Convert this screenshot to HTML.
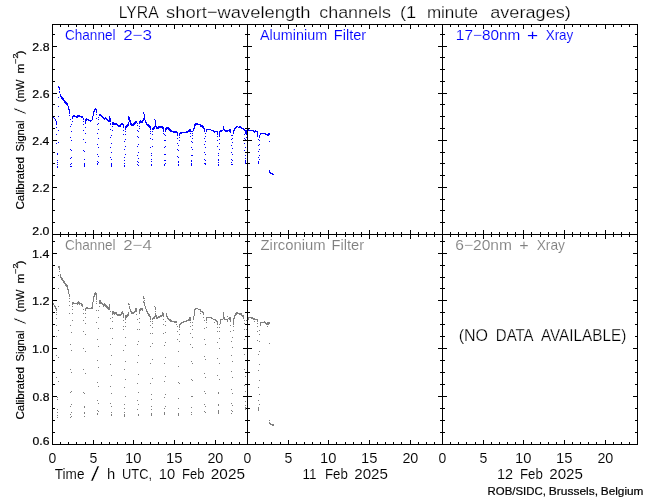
<!DOCTYPE html>
<html lang="en">
<head>
<meta charset="utf-8">
<title>LYRA short-wavelength channels (1 minute averages)</title>
<style>
html,body{margin:0;padding:0;background:#fff;}
body{width:650px;height:500px;overflow:hidden;}
svg{display:block;}
text{font-family:"Liberation Sans", sans-serif;fill:#000;stroke:#000;stroke-width:0;}
text.b{fill:#0000ff;stroke:#0000ff;}
text.g{fill:#7f7f7f;stroke:#7f7f7f;}
text.s1{stroke:#fff;stroke-width:0.25px;}
text.s2{stroke:#fff;stroke-width:0.1px;}
text.s3{stroke-width:0.2px;}
text.s2.b,text.s2.g{stroke:#fff;stroke-width:0.12px;}
</style>
</head>
<body>
<svg width="650" height="500" viewBox="0 0 650 500">
<rect width="650" height="500" fill="#ffffff"/>
<path shape-rendering="crispEdges" fill="#000" d="M52 24h1v421h-1zM247 24h1v421h-1zM442 24h1v421h-1zM637 24h1v421h-1zM52 24h586v1h-586zM52 234h586v1h-586zM52 444h586v1h-586zM60 25h1v2h-1zM60 232h1v5h-1zM60 442h1v2h-1zM68 25h1v2h-1zM68 232h1v5h-1zM68 442h1v2h-1zM76 25h1v2h-1zM76 232h1v5h-1zM76 442h1v2h-1zM85 25h1v2h-1zM85 232h1v5h-1zM85 442h1v2h-1zM93 25h1v4h-1zM93 230h1v9h-1zM93 440h1v4h-1zM101 25h1v2h-1zM101 232h1v5h-1zM101 442h1v2h-1zM109 25h1v2h-1zM109 232h1v5h-1zM109 442h1v2h-1zM117 25h1v2h-1zM117 232h1v5h-1zM117 442h1v2h-1zM125 25h1v2h-1zM125 232h1v5h-1zM125 442h1v2h-1zM133 25h1v4h-1zM133 230h1v9h-1zM133 440h1v4h-1zM141 25h1v2h-1zM141 232h1v5h-1zM141 442h1v2h-1zM150 25h1v2h-1zM150 232h1v5h-1zM150 442h1v2h-1zM158 25h1v2h-1zM158 232h1v5h-1zM158 442h1v2h-1zM166 25h1v2h-1zM166 232h1v5h-1zM166 442h1v2h-1zM174 25h1v4h-1zM174 230h1v9h-1zM174 440h1v4h-1zM182 25h1v2h-1zM182 232h1v5h-1zM182 442h1v2h-1zM190 25h1v2h-1zM190 232h1v5h-1zM190 442h1v2h-1zM198 25h1v2h-1zM198 232h1v5h-1zM198 442h1v2h-1zM206 25h1v2h-1zM206 232h1v5h-1zM206 442h1v2h-1zM215 25h1v4h-1zM215 230h1v9h-1zM215 440h1v4h-1zM223 25h1v2h-1zM223 232h1v5h-1zM223 442h1v2h-1zM231 25h1v2h-1zM231 232h1v5h-1zM231 442h1v2h-1zM239 25h1v2h-1zM239 232h1v5h-1zM239 442h1v2h-1zM255 25h1v2h-1zM255 232h1v5h-1zM255 442h1v2h-1zM263 25h1v2h-1zM263 232h1v5h-1zM263 442h1v2h-1zM271 25h1v2h-1zM271 232h1v5h-1zM271 442h1v2h-1zM280 25h1v2h-1zM280 232h1v5h-1zM280 442h1v2h-1zM288 25h1v4h-1zM288 230h1v9h-1zM288 440h1v4h-1zM296 25h1v2h-1zM296 232h1v5h-1zM296 442h1v2h-1zM304 25h1v2h-1zM304 232h1v5h-1zM304 442h1v2h-1zM312 25h1v2h-1zM312 232h1v5h-1zM312 442h1v2h-1zM320 25h1v2h-1zM320 232h1v5h-1zM320 442h1v2h-1zM328 25h1v4h-1zM328 230h1v9h-1zM328 440h1v4h-1zM336 25h1v2h-1zM336 232h1v5h-1zM336 442h1v2h-1zM345 25h1v2h-1zM345 232h1v5h-1zM345 442h1v2h-1zM353 25h1v2h-1zM353 232h1v5h-1zM353 442h1v2h-1zM361 25h1v2h-1zM361 232h1v5h-1zM361 442h1v2h-1zM369 25h1v4h-1zM369 230h1v9h-1zM369 440h1v4h-1zM377 25h1v2h-1zM377 232h1v5h-1zM377 442h1v2h-1zM385 25h1v2h-1zM385 232h1v5h-1zM385 442h1v2h-1zM393 25h1v2h-1zM393 232h1v5h-1zM393 442h1v2h-1zM401 25h1v2h-1zM401 232h1v5h-1zM401 442h1v2h-1zM410 25h1v4h-1zM410 230h1v9h-1zM410 440h1v4h-1zM418 25h1v2h-1zM418 232h1v5h-1zM418 442h1v2h-1zM426 25h1v2h-1zM426 232h1v5h-1zM426 442h1v2h-1zM434 25h1v2h-1zM434 232h1v5h-1zM434 442h1v2h-1zM450 25h1v2h-1zM450 232h1v5h-1zM450 442h1v2h-1zM458 25h1v2h-1zM458 232h1v5h-1zM458 442h1v2h-1zM466 25h1v2h-1zM466 232h1v5h-1zM466 442h1v2h-1zM475 25h1v2h-1zM475 232h1v5h-1zM475 442h1v2h-1zM483 25h1v4h-1zM483 230h1v9h-1zM483 440h1v4h-1zM491 25h1v2h-1zM491 232h1v5h-1zM491 442h1v2h-1zM499 25h1v2h-1zM499 232h1v5h-1zM499 442h1v2h-1zM507 25h1v2h-1zM507 232h1v5h-1zM507 442h1v2h-1zM515 25h1v2h-1zM515 232h1v5h-1zM515 442h1v2h-1zM523 25h1v4h-1zM523 230h1v9h-1zM523 440h1v4h-1zM531 25h1v2h-1zM531 232h1v5h-1zM531 442h1v2h-1zM540 25h1v2h-1zM540 232h1v5h-1zM540 442h1v2h-1zM548 25h1v2h-1zM548 232h1v5h-1zM548 442h1v2h-1zM556 25h1v2h-1zM556 232h1v5h-1zM556 442h1v2h-1zM564 25h1v4h-1zM564 230h1v9h-1zM564 440h1v4h-1zM572 25h1v2h-1zM572 232h1v5h-1zM572 442h1v2h-1zM580 25h1v2h-1zM580 232h1v5h-1zM580 442h1v2h-1zM588 25h1v2h-1zM588 232h1v5h-1zM588 442h1v2h-1zM596 25h1v2h-1zM596 232h1v5h-1zM596 442h1v2h-1zM605 25h1v4h-1zM605 230h1v9h-1zM605 440h1v4h-1zM613 25h1v2h-1zM613 232h1v5h-1zM613 442h1v2h-1zM621 25h1v2h-1zM621 232h1v5h-1zM621 442h1v2h-1zM629 25h1v2h-1zM629 232h1v5h-1zM629 442h1v2h-1zM53 222h2v1h-2zM245 222h5v1h-5zM440 222h5v1h-5zM635 222h2v1h-2zM53 210h2v1h-2zM245 210h5v1h-5zM440 210h5v1h-5zM635 210h2v1h-2zM53 199h2v1h-2zM245 199h5v1h-5zM440 199h5v1h-5zM635 199h2v1h-2zM53 187h4v1h-4zM243 187h9v1h-9zM438 187h9v1h-9zM633 187h4v1h-4zM53 175h2v1h-2zM245 175h5v1h-5zM440 175h5v1h-5zM635 175h2v1h-2zM53 163h2v1h-2zM245 163h5v1h-5zM440 163h5v1h-5zM635 163h2v1h-2zM53 152h2v1h-2zM245 152h5v1h-5zM440 152h5v1h-5zM635 152h2v1h-2zM53 140h4v1h-4zM243 140h9v1h-9zM438 140h9v1h-9zM633 140h4v1h-4zM53 128h2v1h-2zM245 128h5v1h-5zM440 128h5v1h-5zM635 128h2v1h-2zM53 116h2v1h-2zM245 116h5v1h-5zM440 116h5v1h-5zM635 116h2v1h-2zM53 104h2v1h-2zM245 104h5v1h-5zM440 104h5v1h-5zM635 104h2v1h-2zM53 93h4v1h-4zM243 93h9v1h-9zM438 93h9v1h-9zM633 93h4v1h-4zM53 81h2v1h-2zM245 81h5v1h-5zM440 81h5v1h-5zM635 81h2v1h-2zM53 69h2v1h-2zM245 69h5v1h-5zM440 69h5v1h-5zM635 69h2v1h-2zM53 57h2v1h-2zM245 57h5v1h-5zM440 57h5v1h-5zM635 57h2v1h-2zM53 46h4v1h-4zM243 46h9v1h-9zM438 46h9v1h-9zM633 46h4v1h-4zM53 34h2v1h-2zM245 34h5v1h-5zM440 34h5v1h-5zM635 34h2v1h-2zM53 432h2v1h-2zM245 432h5v1h-5zM440 432h5v1h-5zM635 432h2v1h-2zM53 420h2v1h-2zM245 420h5v1h-5zM440 420h5v1h-5zM635 420h2v1h-2zM53 408h2v1h-2zM245 408h5v1h-5zM440 408h5v1h-5zM635 408h2v1h-2zM53 396h4v1h-4zM243 396h9v1h-9zM438 396h9v1h-9zM633 396h4v1h-4zM53 384h2v1h-2zM245 384h5v1h-5zM440 384h5v1h-5zM635 384h2v1h-2zM53 372h2v1h-2zM245 372h5v1h-5zM440 372h5v1h-5zM635 372h2v1h-2zM53 360h2v1h-2zM245 360h5v1h-5zM440 360h5v1h-5zM635 360h2v1h-2zM53 348h4v1h-4zM243 348h9v1h-9zM438 348h9v1h-9zM633 348h4v1h-4zM53 336h2v1h-2zM245 336h5v1h-5zM440 336h5v1h-5zM635 336h2v1h-2zM53 324h2v1h-2zM245 324h5v1h-5zM440 324h5v1h-5zM635 324h2v1h-2zM53 312h2v1h-2zM245 312h5v1h-5zM440 312h5v1h-5zM635 312h2v1h-2zM53 300h4v1h-4zM243 300h9v1h-9zM438 300h9v1h-9zM633 300h4v1h-4zM53 288h2v1h-2zM245 288h5v1h-5zM440 288h5v1h-5zM635 288h2v1h-2zM53 277h2v1h-2zM245 277h5v1h-5zM440 277h5v1h-5zM635 277h2v1h-2zM53 265h2v1h-2zM245 265h5v1h-5zM440 265h5v1h-5zM635 265h2v1h-2zM53 253h4v1h-4zM243 253h9v1h-9zM438 253h9v1h-9zM633 253h4v1h-4zM53 241h2v1h-2zM245 241h5v1h-5zM440 241h5v1h-5zM635 241h2v1h-2z"/>
<path shape-rendering="crispEdges" fill="#0000ff" d="M53 117h1v1h-1zM54 118h1v1h-1zM55 119h1v2h-1zM56 121h1v4h-1zM58 86h1v2h-1zM59 87h1v3h-1zM59 91h1v2h-1zM60 94h1v3h-1zM61 96h1v3h-1zM62 97h1v3h-1zM63 98h1v3h-1zM64 100h1v3h-1zM65 101h1v3h-1zM66 102h1v3h-1zM67 103h1v3h-1zM68 106h1v4h-1zM69 109h1v5h-1zM72 116h1v3h-1zM73 115h1v2h-1zM74 115h1v2h-1zM75 116h1v1h-1zM76 116h1v2h-1zM77 115h1v3h-1zM78 115h1v2h-1zM79 115h1v2h-1zM80 116h1v1h-1zM81 116h1v2h-1zM82 116h1v2h-1zM83 118h1v2h-1zM85 119h1v5h-1zM86 118h1v3h-1zM87 119h1v1h-1zM88 119h1v2h-1zM89 120h1v1h-1zM90 120h1v2h-1zM91 120h1v1h-1zM92 116h1v4h-1zM93 111h1v5h-1zM94 109h1v3h-1zM95 108h1v2h-1zM96 109h1v4h-1zM99 114h1v2h-1zM100 114h1v2h-1zM101 115h1v2h-1zM102 116h1v2h-1zM103 117h1v2h-1zM104 118h1v2h-1zM105 117h1v2h-1zM106 118h1v2h-1zM107 119h1v2h-1zM108 120h1v2h-1zM109 116h1v6h-1zM110 118h1v4h-1zM112 122h1v3h-1zM113 122h1v3h-1zM114 123h1v2h-1zM115 123h1v2h-1zM116 123h1v2h-1zM117 124h1v2h-1zM118 125h1v2h-1zM119 125h1v2h-1zM120 124h1v3h-1zM121 123h1v2h-1zM122 123h1v2h-1zM123 124h1v4h-1zM125 126h1v3h-1zM126 125h1v3h-1zM127 124h1v3h-1zM128 116h1v4h-1zM128 122h1v4h-1zM129 117h1v5h-1zM130 120h1v5h-1zM131 123h1v3h-1zM132 124h1v2h-1zM133 123h1v3h-1zM134 122h1v3h-1zM135 121h1v3h-1zM136 121h1v2h-1zM139 121h1v3h-1zM140 120h1v3h-1zM141 121h1v2h-1zM142 120h1v3h-1zM143 112h1v2h-1zM143 118h1v3h-1zM144 114h1v6h-1zM145 120h1v3h-1zM146 122h1v3h-1zM147 124h1v2h-1zM148 124h1v3h-1zM149 125h1v3h-1zM150 126h1v4h-1zM152 128h1v2h-1zM153 127h1v3h-1zM154 119h1v1h-1zM154 126h1v3h-1zM155 120h1v7h-1zM156 126h1v3h-1zM157 127h1v2h-1zM158 126h1v3h-1zM159 126h1v2h-1zM160 126h1v2h-1zM161 126h1v2h-1zM162 126h1v3h-1zM163 127h1v5h-1zM165 128h1v3h-1zM166 127h1v3h-1zM167 127h1v2h-1zM168 127h1v3h-1zM169 128h1v3h-1zM170 129h1v3h-1zM171 130h1v2h-1zM172 131h1v1h-1zM173 131h1v2h-1zM174 131h1v2h-1zM175 131h1v2h-1zM176 131h1v2h-1zM177 132h1v4h-1zM179 133h1v3h-1zM180 132h1v2h-1zM181 132h1v2h-1zM182 132h1v1h-1zM183 132h1v1h-1zM184 132h1v1h-1zM185 132h1v1h-1zM186 131h1v2h-1zM187 131h1v2h-1zM188 130h1v2h-1zM189 129h1v3h-1zM190 129h1v3h-1zM191 131h1v1h-1zM192 131h1v1h-1zM193 128h1v3h-1zM194 124h1v5h-1zM195 123h1v3h-1zM196 123h1v2h-1zM197 123h1v2h-1zM198 124h1v1h-1zM199 124h1v1h-1zM200 124h1v3h-1zM201 125h1v2h-1zM202 125h1v3h-1zM203 126h1v3h-1zM204 128h1v4h-1zM206 129h1v3h-1zM207 129h1v1h-1zM208 129h1v1h-1zM209 129h1v1h-1zM210 129h1v1h-1zM211 130h1v1h-1zM212 130h1v1h-1zM213 130h1v2h-1zM214 131h1v2h-1zM215 131h1v1h-1zM216 131h1v1h-1zM217 131h1v4h-1zM219 131h1v6h-1zM220 130h1v2h-1zM221 130h1v2h-1zM222 130h1v1h-1zM223 126h1v4h-1zM224 129h1v2h-1zM225 130h1v2h-1zM226 130h1v2h-1zM227 130h1v2h-1zM228 130h1v1h-1zM229 129h1v3h-1zM230 129h1v4h-1zM233 130h1v4h-1zM234 128h1v3h-1zM235 127h1v2h-1zM236 126h1v2h-1zM237 126h1v1h-1zM238 127h1v1h-1zM239 126h1v2h-1zM240 126h1v2h-1zM241 127h1v2h-1zM242 128h1v1h-1zM243 128h1v2h-1zM244 129h1v2h-1zM245 130h1v4h-1zM246 130h1v5h-1zM248 129h1v2h-1zM249 130h1v1h-1zM250 130h1v1h-1zM251 130h1v1h-1zM252 130h1v1h-1zM253 130h1v2h-1zM254 131h1v2h-1zM255 130h1v2h-1zM256 131h1v1h-1zM257 131h1v6h-1zM259 135h1v3h-1zM260 133h1v2h-1zM261 133h1v1h-1zM262 133h1v1h-1zM263 133h1v1h-1zM264 133h1v1h-1zM265 133h1v2h-1zM266 134h1v1h-1zM267 134h1v2h-1zM268 133h1v3h-1zM269 133h1v2h-1zM269 170h1v3h-1zM270 172h1v2h-1zM271 173h1v1h-1zM272 173h1v2h-1zM273 174h1v1h-1zM56 127h1v1h-1zM56 134h1v1h-1zM56 143h1v1h-1zM58 130h1v1h-1zM58 142h1v1h-1zM57 153h1v2h-1zM57 160h1v1h-1zM57 162h1v1h-1zM57 164h1v1h-1zM57 166h1v2h-1zM58 97h1v1h-1zM58 106h1v1h-1zM58 116h1v1h-1zM69 115h1v1h-1zM70 119h1v1h-1zM70 126h1v1h-1zM72 121h1v1h-1zM71 124h1v1h-1zM71 131h1v1h-1zM71 140h1v1h-1zM71 150h1v1h-1zM71 157h1v1h-1zM71 163h1v1h-1zM71 166h1v1h-1zM70 137h1v1h-1zM70 149h1v1h-1zM70 158h1v1h-1zM70 164h1v1h-1zM70 166h1v1h-1zM83 121h1v1h-1zM83 124h1v1h-1zM83 130h1v1h-1zM83 139h1v1h-1zM83 150h1v1h-1zM85 127h1v1h-1zM85 133h1v1h-1zM85 142h1v1h-1zM84 151h1v1h-1zM84 159h1v1h-1zM84 163h1v4h-1zM96 114h1v1h-1zM96 118h1v1h-1zM98 117h1v1h-1zM98 119h1v1h-1zM98 123h1v1h-1zM98 129h1v1h-1zM98 138h1v1h-1zM98 147h1v1h-1zM98 156h1v1h-1zM98 162h1v1h-1zM97 124h1v1h-1zM97 133h1v1h-1zM97 144h1v1h-1zM97 154h1v1h-1zM97 161h1v1h-1zM97 163h1v2h-1zM110 123h1v2h-1zM110 129h1v1h-1zM110 137h1v1h-1zM110 147h1v1h-1zM110 157h1v1h-1zM112 126h1v1h-1zM112 130h1v1h-1zM111 135h1v1h-1zM111 143h1v1h-1zM111 152h1v1h-1zM111 159h1v1h-1zM111 163h1v4h-1zM123 130h1v1h-1zM123 134h1v1h-1zM125 129h1v1h-1zM125 131h1v1h-1zM125 134h1v1h-1zM125 139h1v1h-1zM125 146h1v1h-1zM125 154h1v1h-1zM124 141h1v1h-1zM124 149h1v1h-1zM124 157h1v1h-1zM124 160h1v1h-1zM124 163h1v1h-1zM124 165h1v2h-1zM137 123h1v1h-1zM137 125h1v1h-1zM137 130h1v1h-1zM137 136h1v1h-1zM137 146h1v1h-1zM137 155h1v1h-1zM137 161h1v1h-1zM137 164h1v1h-1zM139 126h1v1h-1zM139 128h1v1h-1zM138 131h1v1h-1zM138 137h1v1h-1zM138 144h1v1h-1zM138 152h1v1h-1zM138 158h1v1h-1zM138 162h1v1h-1zM138 165h1v1h-1zM150 131h1v1h-1zM150 133h1v1h-1zM150 138h1v1h-1zM150 147h1v1h-1zM152 131h1v1h-1zM152 134h1v1h-1zM152 139h1v1h-1zM152 146h1v1h-1zM151 153h1v1h-1zM151 155h1v1h-1zM151 159h1v1h-1zM151 161h1v1h-1zM151 164h1v2h-1zM163 133h1v1h-1zM165 131h1v1h-1zM165 135h1v1h-1zM165 140h1v1h-1zM165 146h1v1h-1zM165 154h1v1h-1zM165 160h1v1h-1zM165 163h1v1h-1zM164 134h1v1h-1zM164 140h1v1h-1zM164 147h1v1h-1zM164 154h1v1h-1zM164 160h1v1h-1zM164 164h1v2h-1zM177 135h1v1h-1zM177 138h1v1h-1zM177 143h1v1h-1zM177 149h1v1h-1zM177 156h1v1h-1zM179 137h1v1h-1zM179 140h1v1h-1zM178 145h1v1h-1zM178 150h1v1h-1zM178 157h1v1h-1zM178 161h1v2h-1zM178 164h1v2h-1zM190 133h1v1h-1zM190 136h1v1h-1zM192 133h1v1h-1zM192 135h1v1h-1zM192 138h1v1h-1zM192 142h1v1h-1zM192 149h1v1h-1zM192 155h1v1h-1zM191 141h1v1h-1zM191 147h1v1h-1zM191 155h1v1h-1zM191 160h1v2h-1zM191 163h1v3h-1zM205 133h1v1h-1zM205 136h1v1h-1zM205 141h1v1h-1zM205 147h1v1h-1zM205 154h1v1h-1zM205 160h1v1h-1zM205 163h1v2h-1zM204 138h1v1h-1zM204 144h1v1h-1zM204 152h1v1h-1zM204 159h1v1h-1zM204 163h1v1h-1zM217 136h1v1h-1zM217 140h1v1h-1zM217 146h1v1h-1zM219 139h1v1h-1zM219 143h1v1h-1zM219 149h1v1h-1zM218 153h1v1h-1zM218 155h1v1h-1zM218 159h1v2h-1zM218 162h1v1h-1zM218 164h1v2h-1zM231 135h1v1h-1zM231 139h1v1h-1zM231 145h1v1h-1zM231 152h1v1h-1zM231 159h1v1h-1zM231 162h1v1h-1zM231 164h1v1h-1zM232 135h1v1h-1zM232 138h1v1h-1zM232 142h1v1h-1zM232 148h1v1h-1zM232 154h1v1h-1zM232 160h1v1h-1zM232 164h1v1h-1zM244 134h1v1h-1zM244 138h1v1h-1zM244 143h1v1h-1zM244 150h1v1h-1zM246 137h1v1h-1zM245 139h1v1h-1zM245 147h1v1h-1zM245 155h1v1h-1zM245 158h1v1h-1zM245 160h1v4h-1zM258 139h1v1h-1zM258 145h1v1h-1zM258 151h1v1h-1zM258 157h1v1h-1zM258 161h1v3h-1zM259 140h1v1h-1zM259 144h1v1h-1zM259 149h1v1h-1zM259 155h1v1h-1zM259 159h1v1h-1zM269 141h1v1h-1z"/>
<path shape-rendering="crispEdges" fill="#7f7f7f" d="M53 303h1v2h-1zM54 305h1v2h-1zM55 306h1v3h-1zM56 308h1v3h-1zM58 266h1v2h-1zM59 266h1v4h-1zM60 274h1v4h-1zM61 277h1v3h-1zM62 278h1v3h-1zM63 280h1v3h-1zM64 281h1v3h-1zM65 283h1v3h-1zM66 284h1v3h-1zM67 285h1v5h-1zM68 289h1v5h-1zM69 294h1v3h-1zM69 298h1v1h-1zM72 302h1v3h-1zM73 302h1v2h-1zM74 303h1v1h-1zM75 303h1v1h-1zM76 303h1v1h-1zM77 302h1v3h-1zM78 301h1v3h-1zM79 302h1v3h-1zM80 303h1v1h-1zM81 303h1v3h-1zM82 304h1v3h-1zM85 308h1v3h-1zM86 307h1v2h-1zM87 307h1v2h-1zM88 308h1v1h-1zM89 308h1v1h-1zM90 308h1v1h-1zM91 307h1v2h-1zM92 302h1v7h-1zM93 296h1v6h-1zM94 293h1v4h-1zM95 292h1v3h-1zM96 293h1v7h-1zM99 300h1v4h-1zM100 300h1v4h-1zM101 302h1v2h-1zM102 303h1v2h-1zM103 304h1v3h-1zM104 303h1v3h-1zM105 304h1v3h-1zM106 305h1v3h-1zM107 306h1v3h-1zM108 307h1v3h-1zM109 304h1v6h-1zM112 311h1v4h-1zM113 311h1v3h-1zM114 312h1v3h-1zM115 312h1v2h-1zM116 312h1v3h-1zM117 314h1v2h-1zM118 314h1v2h-1zM119 314h1v2h-1zM120 314h1v2h-1zM121 312h1v3h-1zM122 311h1v3h-1zM123 313h1v4h-1zM125 315h1v5h-1zM126 315h1v3h-1zM127 314h1v3h-1zM128 303h1v2h-1zM128 312h1v4h-1zM129 304h1v1h-1zM129 306h1v3h-1zM130 309h1v3h-1zM131 311h1v3h-1zM132 312h1v2h-1zM133 312h1v2h-1zM134 311h1v2h-1zM135 308h1v4h-1zM136 308h1v4h-1zM139 309h1v4h-1zM140 308h1v3h-1zM141 308h1v2h-1zM142 308h1v3h-1zM143 296h1v3h-1zM143 301h1v2h-1zM144 298h1v1h-1zM144 300h1v1h-1zM144 302h1v4h-1zM145 306h1v3h-1zM146 309h1v3h-1zM147 311h1v3h-1zM148 313h1v3h-1zM149 314h1v3h-1zM150 316h1v3h-1zM152 318h1v2h-1zM153 317h1v2h-1zM154 306h1v1h-1zM154 316h1v3h-1zM155 307h1v3h-1zM155 311h1v1h-1zM155 313h1v4h-1zM156 315h1v4h-1zM157 317h1v2h-1zM158 316h1v2h-1zM159 316h1v2h-1zM160 315h1v2h-1zM161 315h1v2h-1zM162 312h1v4h-1zM163 313h1v3h-1zM166 313h1v4h-1zM167 316h1v3h-1zM168 318h1v2h-1zM169 319h1v2h-1zM170 319h1v3h-1zM171 320h1v2h-1zM172 321h1v1h-1zM173 321h1v1h-1zM174 321h1v2h-1zM175 321h1v2h-1zM176 321h1v2h-1zM179 324h1v4h-1zM180 323h1v2h-1zM181 322h1v2h-1zM182 322h1v1h-1zM183 321h1v2h-1zM184 321h1v1h-1zM185 321h1v1h-1zM186 320h1v2h-1zM187 320h1v1h-1zM188 319h1v2h-1zM189 317h1v4h-1zM190 317h1v4h-1zM193 316h1v4h-1zM194 309h1v7h-1zM195 308h1v2h-1zM196 308h1v1h-1zM197 308h1v1h-1zM198 309h1v1h-1zM199 309h1v1h-1zM200 309h1v3h-1zM201 311h1v1h-1zM202 311h1v2h-1zM203 312h1v3h-1zM206 317h1v4h-1zM207 317h1v1h-1zM208 317h1v1h-1zM209 317h1v1h-1zM210 317h1v1h-1zM211 317h1v2h-1zM212 318h1v1h-1zM213 319h1v1h-1zM214 319h1v1h-1zM215 319h1v2h-1zM216 320h1v2h-1zM217 321h1v3h-1zM220 319h1v5h-1zM221 319h1v1h-1zM222 319h1v1h-1zM223 312h1v7h-1zM224 317h1v3h-1zM225 319h1v1h-1zM226 319h1v1h-1zM227 319h1v3h-1zM228 318h1v1h-1zM229 317h1v3h-1zM230 317h1v4h-1zM233 318h1v5h-1zM234 315h1v4h-1zM235 313h1v3h-1zM236 312h1v3h-1zM237 312h1v2h-1zM238 313h1v1h-1zM239 313h1v2h-1zM240 313h1v2h-1zM241 313h1v3h-1zM242 315h1v2h-1zM243 315h1v4h-1zM248 317h1v3h-1zM249 317h1v1h-1zM250 317h1v1h-1zM251 317h1v2h-1zM252 317h1v2h-1zM253 318h1v2h-1zM254 318h1v2h-1zM255 319h1v1h-1zM256 319h1v1h-1zM257 319h1v3h-1zM260 322h1v4h-1zM261 322h1v1h-1zM262 322h1v1h-1zM263 322h1v1h-1zM264 321h1v2h-1zM265 322h1v2h-1zM266 323h1v2h-1zM267 322h1v3h-1zM268 322h1v3h-1zM269 322h1v2h-1zM269 420h1v1h-1zM269 422h1v2h-1zM270 423h1v2h-1zM271 424h1v1h-1zM272 424h1v2h-1zM273 424h1v2h-1zM59 271h1v1h-1zM58 275h1v1h-1zM58 288h1v1h-1zM58 306h1v1h-1zM56 312h1v1h-1zM56 314h1v1h-1zM56 318h1v1h-1zM56 325h1v1h-1zM56 336h1v1h-1zM56 355h1v1h-1zM56 377h1v1h-1zM58 330h1v1h-1zM58 357h1v1h-1zM58 381h1v1h-1zM57 397h1v1h-1zM57 399h1v1h-1zM57 409h1v1h-1zM57 412h1v1h-1zM57 415h1v1h-1zM57 417h1v1h-1zM69 301h1v1h-1zM69 305h1v1h-1zM69 313h1v1h-1zM72 306h1v1h-1zM72 309h1v1h-1zM72 313h1v1h-1zM72 320h1v1h-1zM70 325h1v1h-1zM70 344h1v1h-1zM70 369h1v1h-1zM70 392h1v1h-1zM70 406h1v1h-1zM70 414h1v1h-1zM70 417h1v1h-1zM71 332h1v1h-1zM71 350h1v1h-1zM71 372h1v1h-1zM71 391h1v1h-1zM71 404h1v1h-1zM71 412h1v1h-1zM71 416h1v1h-1zM83 309h1v1h-1zM83 313h1v1h-1zM83 320h1v1h-1zM83 331h1v1h-1zM83 348h1v1h-1zM83 369h1v1h-1zM83 392h1v1h-1zM85 313h1v1h-1zM85 317h1v1h-1zM85 323h1v1h-1zM85 334h1v1h-1zM85 351h1v1h-1zM85 373h1v1h-1zM84 393h1v1h-1zM84 406h1v2h-1zM84 412h1v2h-1zM84 416h1v1h-1zM96 301h1v1h-1zM96 303h1v1h-1zM96 310h1v1h-1zM96 322h1v1h-1zM98 310h1v1h-1zM98 317h1v1h-1zM98 328h1v1h-1zM98 346h1v1h-1zM98 367h1v1h-1zM98 386h1v1h-1zM98 403h1v1h-1zM98 411h1v1h-1zM99 306h1v1h-1zM97 339h1v1h-1zM97 360h1v1h-1zM97 382h1v1h-1zM97 400h1v1h-1zM97 410h1v1h-1zM97 413h1v2h-1zM110 311h1v1h-1zM110 318h1v1h-1zM110 328h1v1h-1zM110 344h1v1h-1zM110 364h1v1h-1zM110 386h1v1h-1zM110 403h1v1h-1zM112 317h1v1h-1zM112 321h1v1h-1zM112 328h1v1h-1zM112 338h1v1h-1zM111 355h1v1h-1zM111 375h1v1h-1zM111 393h1v1h-1zM111 406h1v1h-1zM111 412h1v1h-1zM111 414h1v2h-1zM123 317h1v1h-1zM123 320h1v1h-1zM123 326h1v1h-1zM123 329h1v1h-1zM123 350h1v1h-1zM125 322h1v1h-1zM125 326h1v1h-1zM125 337h1v1h-1zM125 345h1v1h-1zM125 361h1v1h-1zM125 379h1v1h-1zM125 396h1v1h-1zM124 369h1v1h-1zM124 387h1v1h-1zM124 404h1v1h-1zM124 408h1v1h-1zM124 412h1v1h-1zM124 414h1v3h-1zM136 314h1v1h-1zM137 319h1v1h-1zM137 329h1v1h-1zM137 344h1v1h-1zM137 362h1v1h-1zM137 383h1v1h-1zM137 400h1v1h-1zM137 409h1v1h-1zM139 313h1v1h-1zM139 318h1v1h-1zM139 322h1v1h-1zM139 329h1v1h-1zM138 341h1v1h-1zM138 355h1v1h-1zM138 374h1v1h-1zM138 392h1v1h-1zM138 404h1v1h-1zM138 414h1v2h-1zM150 319h1v1h-1zM150 321h1v1h-1zM150 325h1v1h-1zM150 333h1v1h-1zM150 346h1v1h-1zM150 363h1v1h-1zM150 383h1v1h-1zM152 321h1v1h-1zM152 323h1v1h-1zM152 327h1v1h-1zM152 333h1v1h-1zM152 343h1v1h-1zM152 359h1v1h-1zM152 378h1v1h-1zM151 394h1v1h-1zM151 399h1v1h-1zM151 406h1v1h-1zM151 409h1v1h-1zM151 413h1v3h-1zM163 316h1v1h-1zM163 319h1v1h-1zM163 324h1v1h-1zM163 333h1v1h-1zM165 321h1v1h-1zM165 325h1v1h-1zM165 332h1v1h-1zM165 342h1v1h-1zM165 357h1v1h-1zM165 376h1v1h-1zM165 394h1v1h-1zM165 406h1v1h-1zM164 345h1v1h-1zM164 363h1v1h-1zM164 381h1v1h-1zM164 397h1v1h-1zM164 408h1v1h-1zM164 412h1v3h-1zM176 324h1v1h-1zM177 326h1v1h-1zM177 331h1v1h-1zM177 339h1v1h-1zM179 329h1v1h-1zM179 334h1v1h-1zM179 341h1v1h-1zM179 383h1v1h-1zM178 351h1v1h-1zM178 366h1v1h-1zM178 382h1v1h-1zM178 398h1v1h-1zM178 408h1v1h-1zM178 413h1v3h-1zM190 322h1v1h-1zM190 326h1v1h-1zM190 333h1v1h-1zM190 344h1v1h-1zM192 322h1v1h-1zM192 325h1v1h-1zM192 329h1v1h-1zM192 337h1v1h-1zM192 347h1v1h-1zM192 363h1v1h-1zM192 380h1v1h-1zM192 396h1v1h-1zM191 361h1v1h-1zM191 379h1v1h-1zM191 396h1v1h-1zM191 407h1v1h-1zM191 412h1v1h-1zM191 414h1v1h-1zM200 313h1v1h-1zM203 317h1v1h-1zM204 320h1v1h-1zM204 328h1v1h-1zM204 339h1v1h-1zM204 356h1v1h-1zM204 373h1v1h-1zM204 391h1v1h-1zM204 404h1v1h-1zM204 411h1v1h-1zM206 322h1v1h-1zM206 327h1v1h-1zM205 344h1v1h-1zM205 359h1v1h-1zM205 377h1v1h-1zM205 393h1v1h-1zM205 406h1v1h-1zM205 412h1v1h-1zM214 322h1v1h-1zM217 324h1v1h-1zM217 327h1v1h-1zM217 331h1v1h-1zM217 342h1v1h-1zM217 358h1v1h-1zM217 375h1v1h-1zM219 324h1v1h-1zM219 327h1v1h-1zM219 331h1v1h-1zM219 338h1v1h-1zM219 348h1v1h-1zM219 363h1v1h-1zM219 379h1v1h-1zM218 392h1v2h-1zM218 404h1v2h-1zM218 410h1v4h-1zM227 316h1v1h-1zM230 321h1v1h-1zM230 325h1v1h-1zM230 331h1v1h-1zM233 323h1v2h-1zM233 326h1v1h-1zM233 330h1v1h-1zM232 337h1v1h-1zM232 347h1v1h-1zM232 361h1v1h-1zM232 377h1v1h-1zM232 393h1v1h-1zM232 405h1v1h-1zM232 411h1v1h-1zM231 341h1v1h-1zM231 355h1v1h-1zM231 371h1v1h-1zM231 389h1v1h-1zM231 403h1v1h-1zM231 410h1v1h-1zM231 413h1v1h-1zM244 320h1v1h-1zM244 323h1v1h-1zM244 329h1v1h-1zM244 339h1v1h-1zM244 354h1v1h-1zM244 369h1v1h-1zM244 385h1v1h-1zM246 320h1v1h-1zM246 329h1v1h-1zM245 376h1v1h-1zM245 391h1v1h-1zM245 401h1v1h-1zM245 405h1v1h-1zM245 407h1v3h-1zM254 321h1v1h-1zM257 323h1v1h-1zM257 326h1v1h-1zM257 331h1v1h-1zM257 340h1v1h-1zM259 330h1v1h-1zM259 334h1v1h-1zM259 341h1v1h-1zM259 351h1v1h-1zM259 364h1v1h-1zM259 380h1v1h-1zM259 394h1v1h-1zM259 404h1v1h-1zM258 354h1v1h-1zM258 370h1v1h-1zM258 387h1v1h-1zM258 400h1v1h-1zM258 407h1v4h-1zM267 326h1v1h-1zM269 343h1v1h-1z"/>
<text y="18" font-size="17.4" class="s1"><tspan x="118.77" textLength="38.98" lengthAdjust="spacingAndGlyphs">LYRA</tspan> <tspan x="166.10" textLength="144.38" lengthAdjust="spacingAndGlyphs">short−wavelength</tspan> <tspan x="319.24" textLength="71.70" lengthAdjust="spacingAndGlyphs">channels</tspan> <tspan x="399.90" textLength="16.30" lengthAdjust="spacingAndGlyphs">(1</tspan> <tspan x="426.89" textLength="51.16" lengthAdjust="spacingAndGlyphs">minute</tspan> <tspan x="490.23" textLength="80.65" lengthAdjust="spacingAndGlyphs">averages)</tspan></text>
<text y="40" font-size="14.5" class="s2 b"><tspan x="64.92" textLength="50.67" lengthAdjust="spacingAndGlyphs">Channel</tspan> <tspan x="123.15" textLength="28.90" lengthAdjust="spacingAndGlyphs">2−3</tspan></text>
<text y="40" font-size="14.5" class="s2 b"><tspan x="260.00" textLength="67.24" lengthAdjust="spacingAndGlyphs">Aluminium</tspan> <tspan x="333.83" textLength="32.38" lengthAdjust="spacingAndGlyphs">Filter</tspan></text>
<text y="40" font-size="14.5" class="s2 b"><tspan x="455.85" textLength="64.45" lengthAdjust="spacingAndGlyphs">17−80nm</tspan> <tspan x="527.09" textLength="11.14" lengthAdjust="spacingAndGlyphs">+</tspan> <tspan x="545.70" textLength="27.62" lengthAdjust="spacingAndGlyphs">Xray</tspan></text>
<text y="250" font-size="14.5" class="s2 g"><tspan x="64.92" textLength="50.67" lengthAdjust="spacingAndGlyphs">Channel</tspan> <tspan x="123.16" textLength="28.63" lengthAdjust="spacingAndGlyphs">2−4</tspan></text>
<text y="250" font-size="14.5" class="s2 g"><tspan x="260.56" textLength="65.11" lengthAdjust="spacingAndGlyphs">Zirconium</tspan> <tspan x="331.42" textLength="32.69" lengthAdjust="spacingAndGlyphs">Filter</tspan></text>
<text y="250" font-size="14.5" class="s2 g"><tspan x="455.22" textLength="56.72" lengthAdjust="spacingAndGlyphs">6−20nm</tspan> <tspan x="519.23" textLength="9.46" lengthAdjust="spacingAndGlyphs">+</tspan> <tspan x="536.69" textLength="28.22" lengthAdjust="spacingAndGlyphs">Xray</tspan></text>
<text y="341" font-size="17.4" class="s1"><tspan x="458.64" textLength="29.44" lengthAdjust="spacingAndGlyphs">(NO</tspan> <tspan x="495.83" textLength="36.89" lengthAdjust="spacingAndGlyphs">DATA</tspan> <tspan x="541.00" textLength="85.24" lengthAdjust="spacingAndGlyphs">AVAILABLE)</tspan></text>
<text y="463" font-size="14.5" class="s2"><tspan x="48.58" textLength="7.76" lengthAdjust="spacingAndGlyphs">0</tspan></text>
<text y="463" font-size="14.5" class="s2"><tspan x="89.54" textLength="7.84" lengthAdjust="spacingAndGlyphs">5</tspan></text>
<text y="463" font-size="14.5" class="s2"><tspan x="124.99" textLength="16.39" lengthAdjust="spacingAndGlyphs">10</tspan></text>
<text y="463" font-size="14.5" class="s2"><tspan x="165.99" textLength="16.43" lengthAdjust="spacingAndGlyphs">15</tspan></text>
<text y="463" font-size="14.5" class="s2"><tspan x="207.38" textLength="15.99" lengthAdjust="spacingAndGlyphs">20</tspan></text>
<text y="463" font-size="14.5" class="s2"><tspan x="243.58" textLength="7.76" lengthAdjust="spacingAndGlyphs">0</tspan></text>
<text y="463" font-size="14.5" class="s2"><tspan x="284.54" textLength="7.84" lengthAdjust="spacingAndGlyphs">5</tspan></text>
<text y="463" font-size="14.5" class="s2"><tspan x="319.99" textLength="16.39" lengthAdjust="spacingAndGlyphs">10</tspan></text>
<text y="463" font-size="14.5" class="s2"><tspan x="360.99" textLength="16.43" lengthAdjust="spacingAndGlyphs">15</tspan></text>
<text y="463" font-size="14.5" class="s2"><tspan x="402.38" textLength="15.99" lengthAdjust="spacingAndGlyphs">20</tspan></text>
<text y="463" font-size="14.5" class="s2"><tspan x="438.58" textLength="7.76" lengthAdjust="spacingAndGlyphs">0</tspan></text>
<text y="463" font-size="14.5" class="s2"><tspan x="479.54" textLength="7.84" lengthAdjust="spacingAndGlyphs">5</tspan></text>
<text y="463" font-size="14.5" class="s2"><tspan x="514.99" textLength="16.39" lengthAdjust="spacingAndGlyphs">10</tspan></text>
<text y="463" font-size="14.5" class="s2"><tspan x="555.99" textLength="16.43" lengthAdjust="spacingAndGlyphs">15</tspan></text>
<text y="463" font-size="14.5" class="s2"><tspan x="597.38" textLength="15.99" lengthAdjust="spacingAndGlyphs">20</tspan></text>
<text y="479" font-size="14.5" class="s2"><tspan x="54.73" textLength="29.75" lengthAdjust="spacingAndGlyphs">Time</tspan> <tspan x="90.54" dy="2.3" font-size="20.6" stroke="#fff" stroke-width="0.55" textLength="9.16" lengthAdjust="spacingAndGlyphs">/</tspan> <tspan x="107.00" dy="-2.3" textLength="8.24" lengthAdjust="spacingAndGlyphs">h</tspan> <tspan x="122.04" textLength="30.00" lengthAdjust="spacingAndGlyphs">UTC,</tspan> <tspan x="158.89" textLength="16.39" lengthAdjust="spacingAndGlyphs">10</tspan> <tspan x="181.96" textLength="22.47" lengthAdjust="spacingAndGlyphs">Feb</tspan> <tspan x="210.83" textLength="34.11" lengthAdjust="spacingAndGlyphs">2025</tspan></text>
<text y="479" font-size="14.5" class="s2"><tspan x="302.59" textLength="13.96" lengthAdjust="spacingAndGlyphs">11</tspan> <tspan x="324.94" textLength="22.90" lengthAdjust="spacingAndGlyphs">Feb</tspan> <tspan x="354.24" textLength="33.70" lengthAdjust="spacingAndGlyphs">2025</tspan></text>
<text y="479" font-size="14.5" class="s2"><tspan x="496.91" textLength="16.11" lengthAdjust="spacingAndGlyphs">12</tspan> <tspan x="519.94" textLength="22.90" lengthAdjust="spacingAndGlyphs">Feb</tspan> <tspan x="549.24" textLength="33.70" lengthAdjust="spacingAndGlyphs">2025</tspan></text>
<text y="235" font-size="11.6" class="s3"><tspan x="32.39" textLength="17.08" lengthAdjust="spacingAndGlyphs">2.0</tspan></text>
<text y="192" font-size="11.6" class="s3"><tspan x="32.38" textLength="17.21" lengthAdjust="spacingAndGlyphs">2.2</tspan></text>
<text y="145" font-size="11.6" class="s3"><tspan x="32.39" textLength="16.95" lengthAdjust="spacingAndGlyphs">2.4</tspan></text>
<text y="98" font-size="11.6" class="s3"><tspan x="32.38" textLength="17.14" lengthAdjust="spacingAndGlyphs">2.6</tspan></text>
<text y="51" font-size="11.6" class="s3"><tspan x="32.38" textLength="17.11" lengthAdjust="spacingAndGlyphs">2.8</tspan></text>
<text y="445" font-size="11.6" class="s3"><tspan x="32.54" textLength="16.98" lengthAdjust="spacingAndGlyphs">0.6</tspan></text>
<text y="401" font-size="11.6" class="s3"><tspan x="32.54" textLength="16.95" lengthAdjust="spacingAndGlyphs">0.8</tspan></text>
<text y="353" font-size="11.6" class="s3"><tspan x="32.06" textLength="17.41" lengthAdjust="spacingAndGlyphs">1.0</tspan></text>
<text y="305" font-size="11.6" class="s3"><tspan x="32.05" textLength="17.55" lengthAdjust="spacingAndGlyphs">1.2</tspan></text>
<text y="258" font-size="11.6" class="s3"><tspan x="32.07" textLength="17.28" lengthAdjust="spacingAndGlyphs">1.4</tspan></text>
<text transform="translate(24 209) rotate(-90)" font-size="11.6" class="s3"><tspan x="-0.58" textLength="52.61" lengthAdjust="spacingAndGlyphs">Calibrated</tspan> <tspan x="57.50" textLength="30.92" lengthAdjust="spacingAndGlyphs">Signal</tspan> <tspan x="94.40" dy="1.9" font-size="16.5" stroke="#fff" stroke-width="0.55" textLength="6.85" lengthAdjust="spacingAndGlyphs">/</tspan> <tspan x="106.86" dy="-1.9" textLength="22.46" lengthAdjust="spacingAndGlyphs">(mW</tspan> <tspan x="135.63" textLength="9.84" lengthAdjust="spacingAndGlyphs">m</tspan><tspan x="145.17" dy="-6" font-size="6.8" textLength="10.26" lengthAdjust="spacingAndGlyphs">−2</tspan><tspan x="154.4" dy="6">)</tspan></text>
<text transform="translate(24 419) rotate(-90)" font-size="11.6" class="s3"><tspan x="-0.58" textLength="52.61" lengthAdjust="spacingAndGlyphs">Calibrated</tspan> <tspan x="57.50" textLength="30.92" lengthAdjust="spacingAndGlyphs">Signal</tspan> <tspan x="94.40" dy="1.9" font-size="16.5" stroke="#fff" stroke-width="0.55" textLength="6.85" lengthAdjust="spacingAndGlyphs">/</tspan> <tspan x="106.86" dy="-1.9" textLength="22.46" lengthAdjust="spacingAndGlyphs">(mW</tspan> <tspan x="135.63" textLength="9.84" lengthAdjust="spacingAndGlyphs">m</tspan><tspan x="145.17" dy="-6" font-size="6.8" textLength="10.26" lengthAdjust="spacingAndGlyphs">−2</tspan><tspan x="154.4" dy="6">)</tspan></text>
<text y="495" font-size="11.6" class="s3"><tspan x="487.59" textLength="58.30" lengthAdjust="spacingAndGlyphs">ROB/SIDC,</tspan> <tspan x="548.74" textLength="49.31" lengthAdjust="spacingAndGlyphs">Brussels,</tspan> <tspan x="600.75" textLength="42.72" lengthAdjust="spacingAndGlyphs">Belgium</tspan></text>
</svg>
</body>
</html>
